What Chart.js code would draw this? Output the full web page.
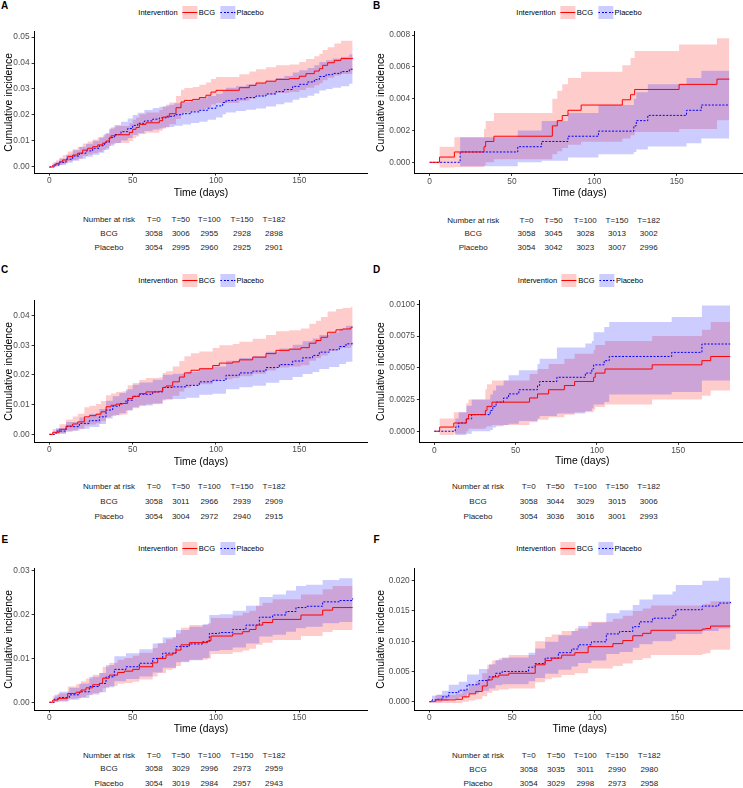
<!DOCTYPE html>
<html><head><meta charset="utf-8">
<script src="https://cdn.jsdelivr.net/npm/chart.js@4.4.1/dist/chart.umd.min.js"></script>
<style>
html,body{margin:0;padding:0;background:#fff;overflow:hidden}
#root{position:relative;width:743px;height:788px;overflow:hidden;font-family:"Liberation Sans",Arial,Helvetica,sans-serif;background:#fff}
.abs{position:absolute;white-space:nowrap}
canvas{position:absolute}
.legend{display:flex;align-items:center;height:13px;font-size:7.5px;line-height:13px;color:#000}
.key{position:relative;width:15px;height:13px;display:inline-block}
.key.bcg{background:rgba(255,0,0,0.2)}
.key.pla{background:rgba(0,0,255,0.2)}
.key i{position:absolute;left:0;right:0;top:6px;height:1px}
.key.bcg i{background:#ff0000}
.key.pla i{background:repeating-linear-gradient(90deg,#0000ff 0 2px,transparent 2px 3.5px)}
</style></head>
<body><div id="root"></div>
<script>
// ---------- shared labels ----------
const legendTitle = 'Intervention';
const groups = ['BCG', 'Placebo'];
const xTicks = [0, 50, 100, 150];
const xTickLabels = ['0', '50', '100', '150'];
const riskHeader = 'Number at risk';
const riskTimes = ['T=0', 'T=50', 'T=100', 'T=150', 'T=182'];

// ---------- y ticks ----------
const yTicksA = [0, 0.01, 0.02, 0.03, 0.04, 0.05];
const yLabelsA = ['0.00', '0.01', '0.02', '0.03', '0.04', '0.05'];
const yTicksB = [0, 0.002, 0.004, 0.006, 0.008];
const yLabelsB = ['0.000', '0.002', '0.004', '0.006', '0.008'];
const yTicksC = [0, 0.01, 0.02, 0.03, 0.04];
const yLabelsC = ['0.00', '0.01', '0.02', '0.03', '0.04'];
const yTicksD = [0, 0.0025, 0.005, 0.0075, 0.01];
const yLabelsD = ['0.0000', '0.0025', '0.0050', '0.0075', '0.0100'];
const yTicksE = [0, 0.01, 0.02, 0.03];
const yLabelsE = ['0.00', '0.01', '0.02', '0.03'];
const yTicksF = [0, 0.005, 0.01, 0.015, 0.02];
const yLabelsF = ['0.000', '0.005', '0.010', '0.015', '0.020'];

// ---------- risk tables ----------
const riskBcgA = [3058, 3006, 2955, 2928, 2898];
const riskPlaA = [3054, 2995, 2960, 2925, 2901];
const riskBcgB = [3058, 3045, 3028, 3013, 3002];
const riskPlaB = [3054, 3042, 3023, 3007, 2996];
const riskBcgC = [3058, 3011, 2966, 2939, 2909];
const riskPlaC = [3054, 3004, 2972, 2940, 2915];
const riskBcgD = [3058, 3044, 3029, 3015, 3006];
const riskPlaD = [3054, 3036, 3016, 3001, 2993];
const riskBcgE = [3058, 3029, 2996, 2973, 2959];
const riskPlaE = [3054, 3019, 2984, 2957, 2943];
const riskBcgF = [3058, 3035, 3011, 2990, 2980];
const riskPlaF = [3054, 3029, 2998, 2973, 2958];

// ---------- Panel A ----------
const aBcgT   = [0,2,4,6,8,11,14,17,20,23,26,29,32,34,36,37,40,48,50,52,54,58,66,68,72,76,79,81,86,90,94,97,100,114,120,124,130,136,144,150,154,159,162,164,167,171,175,182];
const aBcgEst = [0,.0007,.0013,.0020,.0027,.0040,.0046,.0053,.0065,.0072,.0078,.0085,.0092,.0100,.0111,.0120,.0124,.0133,.0145,.0152,.0164,.0170,.0178,.0192,.0205,.0228,.0250,.0256,.0260,.0267,.0276,.0288,.0295,.0305,.0314,.0323,.0330,.0337,.0340,.0349,.0359,.0369,.0378,.0391,.0401,.0410,.0417,.0420];
const aBcgHi  = [0,.0017,.0026,.0036,.0045,.0060,.0068,.0077,.0090,.0098,.0106,.0114,.0122,.0131,.0144,.0153,.0158,.0168,.0182,.0190,.0203,.0210,.0219,.0234,.0248,.0273,.0297,.0304,.0308,.0316,.0325,.0338,.0346,.0357,.0367,.0376,.0384,.0391,.0394,.0404,.0415,.0426,.0436,.0450,.0461,.0475,.0486,.0488];
const aBcgLo  = [0,.0001,.0004,.0008,.0012,.0022,.0027,.0032,.0042,.0048,.0053,.0059,.0065,.0072,.0081,.0089,.0092,.0100,.0111,.0117,.0127,.0132,.0139,.0152,.0164,.0185,.0205,.0210,.0214,.0220,.0228,.0240,.0246,.0255,.0263,.0272,.0278,.0285,.0288,.0296,.0305,.0314,.0322,.0334,.0343,.0352,.0358,.0360];
const aPlaT   = [0,3,6,10,14,18,22,26,30,33,36,39,43,47,50,53,57,62,66,70,75,80,85,90,95,100,104,106,112,118,124,130,136,141,146,150,155,159,162,166,170,175,180,182];
const aPlaEst = [0,.0008,.0018,.0030,.0042,.0053,.0062,.0072,.0082,.0095,.0113,.0125,.0136,.0148,.0160,.0168,.0177,.0184,.0189,.0195,.0201,.0205,.0212,.0218,.0226,.0235,.0248,.0256,.0262,.0267,.0273,.0281,.0290,.0298,.0310,.0318,.0327,.0336,.0348,.0355,.0360,.0367,.0376,.0378];
const aPlaHi  = [0,.0018,.0032,.0048,.0064,.0078,.0089,.0101,.0113,.0128,.0148,.0162,.0174,.0187,.0200,.0209,.0219,.0227,.0232,.0239,.0245,.0250,.0257,.0264,.0273,.0282,.0296,.0305,.0311,.0317,.0323,.0332,.0342,.0350,.0363,.0372,.0381,.0391,.0404,.0411,.0417,.0424,.0434,.0444];
const aPlaLo  = [0,.0002,.0008,.0016,.0024,.0032,.0039,.0047,.0055,.0066,.0082,.0092,.0102,.0112,.0123,.0130,.0138,.0144,.0148,.0154,.0159,.0163,.0169,.0174,.0182,.0190,.0203,.0210,.0215,.0220,.0225,.0233,.0241,.0248,.0259,.0266,.0274,.0283,.0294,.0300,.0305,.0311,.0320,.0321];

// ---------- Panel B ----------
const bBcgT   = [0,6,15,33,34,39,74.5,77.5,80.5,84,92,117,122,124.5,151.5,174.5,182];
const bBcgEst = [0,.00033,.00065,.00098,.00131,.00164,.00229,.00262,.00294,.00327,.00360,.00393,.00425,.00458,.00490,.00523,.00523];
const bBcgHi  = [0,.00098,.00157,.00210,.00260,.00310,.00400,.00450,.00490,.00530,.00570,.00610,.00655,.00700,.00740,.00780,.00780];
const bBcgLo  = [0,-.00033,-.00030,-.00020,0,.00020,.00050,.00070,.00090,.00110,.00130,.00150,.00170,.00190,.00210,.00265,.00265];
const bPlaT   = [0,18.5,53.5,68,84,102.5,124,125.5,132.5,156,165,182];
const bPlaEst = [0,.00065,.00098,.00131,.00164,.00196,.00229,.00262,.00295,.00327,.00360,.00360];
const bPlaHi  = [0,.00157,.00200,.00260,.00310,.00360,.00400,.00440,.00490,.00530,.00575,.00575];
const bPlaLo  = [0,-.00025,0,.00010,.00030,.00050,.00065,.00080,.00100,.00120,.00150,.00150];

// ---------- Panel C ----------
const cBcgT   = [0,2,6,10,14,17,21,24,28,31,34,37,40,44,47,50,54,58,66,68,70,74,78,81,85,90,98,102,110,114,122,130,136,144,151,156,160,163,167,172,176,181,182];
const cBcgEst = [0,.0007,.0017,.0028,.0035,.0042,.0059,.0063,.0068,.0076,.0093,.0098,.0102,.0104,.0121,.0128,.0137,.0143,.0145,.0158,.0163,.0177,.0193,.0207,.0216,.0221,.0232,.0240,.0244,.0251,.0260,.0272,.0283,.0287,.0292,.0307,.0316,.0327,.0344,.0352,.0355,.0361,.0362];
const cBcgHi  = [0,.0018,.0034,.0050,.0060,.0069,.0091,.0096,.0102,.0112,.0132,.0138,.0143,.0145,.0165,.0173,.0183,.0190,.0192,.0207,.0213,.0229,.0247,.0263,.0273,.0279,.0291,.0300,.0304,.0312,.0322,.0335,.0347,.0351,.0357,.0373,.0383,.0395,.0414,.0422,.0426,.0430,.0430];
const cBcgLo  = [0,.0001,.0002,.0008,.0013,.0018,.0030,.0033,.0037,.0044,.0058,.0062,.0065,.0067,.0081,.0088,.0096,.0101,.0103,.0114,.0118,.0130,.0144,.0157,.0165,.0169,.0179,.0186,.0190,.0196,.0204,.0215,.0225,.0229,.0233,.0248,.0256,.0266,.0281,.0289,.0291,.0297,.0297];
const cPlaT   = [0,4,10,18,24,30,34,38,42,46,50,54,62,68,74,82,90,98,106,114,122,130,138,146,152,158,162,168,174,178,182];
const cPlaEst = [0,.0011,.0026,.0037,.0046,.0059,.0082,.0095,.0104,.0115,.0128,.0135,.0143,.0158,.0160,.0165,.0177,.0182,.0199,.0207,.0213,.0225,.0235,.0247,.0258,.0266,.0277,.0285,.0296,.0305,.0311];
const cPlaHi  = [0,.0021,.0042,.0057,.0069,.0085,.0113,.0128,.0139,.0152,.0167,.0175,.0184,.0201,.0204,.0210,.0223,.0229,.0248,.0257,.0264,.0278,.0289,.0302,.0314,.0323,.0335,.0344,.0356,.0366,.0372];
const cPlaLo  = [0,.0003,.0012,.0019,.0025,.0035,.0053,.0064,.0071,.0080,.0091,.0097,.0104,.0117,.0119,.0123,.0133,.0137,.0152,.0159,.0164,.0174,.0183,.0193,.0203,.0210,.0220,.0227,.0237,.0245,.0250];

// ---------- Panel D ----------
const dBcgT   = [0,3.3,12,19.7,21,31.4,32.4,35.5,58.6,63.5,70.3,80,86.3,98,99,105,134,164.6,170,182];
const dBcgEst = [0,.00033,.00065,.00098,.00131,.00164,.00196,.00229,.00262,.00294,.00327,.00360,.00392,.00425,.00458,.00490,.00523,.00556,.00589,.00589];
const dBcgHi  = [0,.00100,.00150,.00220,.00250,.00330,.00370,.00400,.00450,.00490,.00530,.00570,.00610,.00640,.00680,.00710,.00750,.00800,.00860,.00860];
const dBcgLo  = [0,-.00030,-.00020,0,.00020,.00030,.00040,.00050,.00070,.00090,.00110,.00130,.00150,.00170,.00190,.00210,.00250,.00280,.00320,.00320];
const dPlaT   = [0,12.9,15,19.7,23,34.4,36,38,42.6,45.7,52,63.5,64.8,75.4,92.9,96.9,98,104.5,107.6,146,164.6,182];
const dPlaEst = [0,.00033,.00065,.00098,.00131,.00164,.00196,.00229,.00262,.00294,.00327,.00360,.00392,.00425,.00458,.00490,.00523,.00556,.00589,.00621,.00687,.00687];
const dPlaHi  = [0,.00100,.00150,.00200,.00250,.00290,.00320,.00360,.00400,.00440,.00480,.00530,.00570,.00660,.00690,.00710,.00780,.00820,.00860,.00900,.00990,.00990];
const dPlaLo  = [0,-.00030,-.00030,-.00020,0,.00010,.00030,.00040,.00050,.00060,.00080,.00100,.00120,.00140,.00160,.00180,.00210,.00230,.00290,.00310,.00400,.00400];

// ---------- Panel E ----------
const eBcgT   = [0,2,5,11,16,19,22,26,30,32,36,41,45,50,54,62,65,70,74,76,79,84,95,97,110,116,120,124,128,134,151,164,170,182];
const eBcgEst = [0,.0005,.0009,.0020,.0023,.0028,.0033,.0040,.0043,.0055,.0062,.0068,.0071,.0075,.0081,.0090,.0100,.0108,.0112,.0119,.0131,.0136,.0140,.0151,.0156,.0161,.0166,.0176,.0182,.0189,.0199,.0210,.0216,.0216];
const eBcgHi  = [0,.0013,.0020,.0036,.0041,.0048,.0054,.0063,.0067,.0081,.0090,.0097,.0101,.0106,.0113,.0124,.0135,.0144,.0149,.0157,.0170,.0176,.0180,.0192,.0198,.0204,.0209,.0220,.0227,.0235,.0246,.0258,.0265,.0265];
const eBcgLo  = [0,0,.0001,.0008,.0009,.0012,.0016,.0021,.0023,.0032,.0037,.0042,.0044,.0047,.0052,.0059,.0067,.0074,.0077,.0083,.0093,.0097,.0100,.0110,.0114,.0118,.0122,.0131,.0136,.0142,.0151,.0160,.0165,.0165];
const ePlaT   = [0,3,6,12,18,24,30,34,39,46,54,62,68,76,84,92,96,102,110,118,126,134,142,148,154,164,174,182];
const ePlaEst = [0,.0007,.0011,.0017,.0024,.0036,.0043,.0058,.0075,.0081,.0089,.0100,.0112,.0127,.0133,.0138,.0157,.0159,.0166,.0176,.0194,.0199,.0207,.0216,.0219,.0229,.0232,.0237];
const ePlaHi  = [0,.0017,.0024,.0033,.0043,.0058,.0067,.0085,.0105,.0112,.0121,.0134,.0148,.0165,.0172,.0178,.0199,.0201,.0209,.0220,.0240,.0246,.0255,.0265,.0268,.0279,.0283,.0291];
const ePlaLo  = [0,.0001,.0003,.0006,.0010,.0018,.0023,.0034,.0048,.0053,.0059,.0068,.0079,.0091,.0096,.0101,.0117,.0119,.0125,.0134,.0150,.0154,.0161,.0169,.0172,.0180,.0183,.0187];

// ---------- Panel F ----------
const fBcgT   = [0,3.6,16,20,24,28,32,35,38,42,48,64,70,74,80,88,96,111,117,123,129,134,165,167,170,182];
const fBcgEst = [0,.0003,.0004,.0008,.0013,.0017,.0026,.0036,.0041,.0044,.0047,.0061,.0068,.0072,.0077,.0081,.0091,.0096,.0101,.0109,.0113,.0118,.0120,.0121,.0125,.0125];
const fBcgHi  = [0,.0011,.0013,.0020,.0028,.0034,.0047,.0061,.0068,.0072,.0077,.0100,.0107,.0111,.0117,.0121,.0132,.0137,.0142,.0150,.0154,.0159,.0161,.0162,.0166,.0166];
const fBcgLo  = [0,-.0002,-.0002,0,.0002,.0004,.0009,.0015,.0018,.0020,.0022,.0032,.0037,.0040,.0044,.0047,.0055,.0059,.0063,.0069,.0072,.0077,.0079,.0080,.0086,.0086];
const fPlaT   = [0,1.6,4.6,7.7,11.7,17.8,22.8,30,36,40,44,60,64,70,78,86,90,98,107,115,123,127,135,147,149,165,175,182];
const fPlaEst = [0,.0003,.0004,.0008,.0015,.0019,.0028,.0035,.0041,.0047,.0050,.0057,.0063,.0072,.0081,.0087,.0094,.0099,.0112,.0116,.0124,.0132,.0138,.0142,.0152,.0158,.0163,.0165];
const fPlaHi  = [0,.0010,.0012,.0018,.0028,.0033,.0045,.0054,.0062,.0069,.0073,.0081,.0088,.0099,.0110,.0117,.0125,.0131,.0146,.0151,.0160,.0169,.0177,.0182,.0193,.0200,.0205,.0208];
const fPlaLo  = [0,-.0001,-.0001,.0001,.0005,.0007,.0013,.0018,.0022,.0027,.0029,.0034,.0039,.0046,.0053,.0058,.0064,.0068,.0079,.0082,.0089,.0095,.0100,.0103,.0112,.0117,.0121,.0122];

// ---------- layout of the six panels ----------
const colsL = [109, 153.8, 180.8, 209.3, 242, 274];
const panels = [
  {id:'A', left:0,   plot:{l:34.2, r:367.8, t:31.7,  b:173},   y:{min:-0.00231, max:0.05204, ticks:yTicksA, labels:yLabelsA}, letter:[1,5.5],     legend:[201,12.7],  titleOff:20.3, cols:colsL, rows:[220,234.3,248.3],
   bcg:[aBcgT,aBcgEst,aBcgLo,aBcgHi], pla:[aPlaT,aPlaEst,aPlaLo,aPlaHi], risk:[riskBcgA,riskPlaA]},
  {id:'B', left:372, plot:{l:414.7, r:744.3, t:31.7, b:173.3}, y:{min:-0.00069, max:0.00821, ticks:yTicksB, labels:yLabelsB}, letter:[373,5.5],   legend:[579,12.7],  titleOff:20,   cols:[473.2,526.5,553.5,585.3,617,648.7], rows:[221,234,248.3],
   bcg:[bBcgT,bBcgEst,bBcgLo,bBcgHi], pla:[bPlaT,bPlaEst,bPlaLo,bPlaHi], risk:[riskBcgB,riskPlaB]},
  {id:'C', left:0,   plot:{l:34.2, r:367.8, t:300.7, b:442},   y:{min:-0.00258, max:0.04503, ticks:yTicksC, labels:yLabelsC}, letter:[1,269.5],   legend:[201,280],   titleOff:19.7, cols:colsL, rows:[487.3,501.7,516.7],
   bcg:[cBcgT,cBcgEst,cBcgLo,cBcgHi], pla:[cPlaT,cPlaEst,cPlaLo,cPlaHi], risk:[riskBcgC,riskPlaC]},
  {id:'D', left:372, plot:{l:419.5, r:745, t:300.7, b:442.3},  y:{min:-0.00087, max:0.01028, ticks:yTicksD, labels:yLabelsD}, letter:[373,269.5], legend:[580.5,280], titleOff:19,   cols:[478,528.7,555.3,585.3,617,648.7], rows:[487.3,501.7,516.7],
   bcg:[dBcgT,dBcgEst,dBcgLo,dBcgHi], pla:[dPlaT,dPlaEst,dPlaLo,dPlaHi], risk:[riskBcgD,riskPlaD]},
  {id:'E', left:0,   plot:{l:34.2, r:367.8, t:568.7, b:710},   y:{min:-0.00176, max:0.03046, ticks:yTicksE, labels:yLabelsE}, letter:[1.5,540],   legend:[201,548.3], titleOff:19,   cols:colsL, rows:[755.7,769.3,784],
   bcg:[eBcgT,eBcgEst,eBcgLo,eBcgHi], pla:[ePlaT,ePlaEst,ePlaLo,ePlaHi], risk:[riskBcgE,riskPlaE]},
  {id:'F', left:372, plot:{l:414.3, r:745.4, t:568.7, b:710},  y:{min:-0.00137, max:0.02198, ticks:yTicksF, labels:yLabelsF}, letter:[373.5,540], legend:[579,548.3], titleOff:19.3, cols:[478,528.7,556,585.3,617,649.3], rows:[755.7,770,784.3],
   bcg:[fBcgT,fBcgEst,fBcgLo,fBcgHi], pla:[fPlaT,fPlaEst,fPlaLo,fPlaHi], risk:[riskBcgF,riskPlaF]}
];

const FONT = '"Liberation Sans", Arial, Helvetica, sans-serif';
Chart.defaults.font.family = FONT;
const root = document.getElementById('root');

function addText(x, y, s, fs, opts) {
  opts = opts || {};
  const d = document.createElement('div');
  d.className = 'abs';
  d.textContent = s;
  d.style.left = x + 'px';
  d.style.top = (y - 0.5 * fs) + 'px';
  d.style.fontSize = fs + 'px';
  d.style.lineHeight = fs + 'px';
  if (!opts.left) d.style.transform = 'translateX(-50%)';
  if (opts.bold) d.style.fontWeight = 'bold';
  d.style.color = opts.color || '#000';
  root.appendChild(d);
}

function addLegend(cx, cy) {
  const d = document.createElement('div');
  d.className = 'abs legend';
  d.style.left = cx + 'px';
  d.style.top = (cy - 6.5) + 'px';
  d.style.transform = 'translateX(-50%)';
  const t = document.createElement('span'); t.textContent = legendTitle; t.style.marginRight = '4.7px'; d.appendChild(t);
  ['bcg', 'pla'].forEach((k, i) => {
    const key = document.createElement('span'); key.className = 'key ' + k;
    key.appendChild(document.createElement('i')); d.appendChild(key);
    const s = document.createElement('span'); s.textContent = groups[i];
    s.style.marginLeft = '1.5px'; if (i === 0) s.style.marginRight = '5px';
    d.appendChild(s);
  });
  root.appendChild(d);
}

const pts = (t, v) => t.map((x, i) => ({x: x, y: v[i]}));

function buildPanel(p) {
  addText(p.letter[0], p.letter[1], p.id, 10, {left: true, bold: true});
  addLegend(p.legend[0], p.legend[1]);

  const cl = p.left;
  const ct = Math.floor(p.plot.t - 10);
  const padTop = p.plot.t - ct;
  const plotH = p.plot.b - p.plot.t;
  const titleLH = 10.4 * 1.2;
  const cw = Math.ceil(p.plot.r - cl + 3);
  const padRight = cw - (p.plot.r - cl);
  const ch = Math.ceil(padTop + plotH + p.titleOff + titleLH / 2 + 2);
  const xScaleH = ch - padTop - plotH;
  const titlePadB = xScaleH - p.titleOff - titleLH / 2;
  const yScaleW = p.plot.l - cl;

  const cv = document.createElement('canvas');
  cv.width = cw; cv.height = ch;
  cv.style.left = cl + 'px'; cv.style.top = ct + 'px';
  cv.style.width = cw + 'px'; cv.style.height = ch + 'px';
  root.appendChild(cv);

  const band = (col) => ({borderColor: 'rgba(0,0,0,0)', borderWidth: 0, backgroundColor: col, stepped: true, pointRadius: 0, tension: 0});
  const datasets = [
    {label: groups[0], data: pts(p.bcg[0], p.bcg[1]), borderColor: '#ff0000', borderWidth: 1, stepped: true, pointRadius: 0, fill: false, order: 0},
    {label: groups[1], data: pts(p.pla[0], p.pla[1]), borderColor: '#0000ff', borderWidth: 1, borderDash: [2, 1.5], stepped: true, pointRadius: 0, fill: false, order: 0},
    Object.assign({label: groups[1] + ' upper', data: pts(p.pla[0], p.pla[3]), fill: '+1', order: 1}, band('rgba(0,0,255,0.2)')),
    Object.assign({label: groups[1] + ' lower', data: pts(p.pla[0], p.pla[2]), fill: false, order: 1}, band('rgba(0,0,255,0.2)')),
    Object.assign({label: groups[0] + ' upper', data: pts(p.bcg[0], p.bcg[3]), fill: '+1', order: 2}, band('rgba(255,0,0,0.2)')),
    Object.assign({label: groups[0] + ' lower', data: pts(p.bcg[0], p.bcg[2]), fill: false, order: 2}, band('rgba(255,0,0,0.2)'))
  ];

  new Chart(cv, {
    type: 'line',
    data: {datasets: datasets},
    options: {
      responsive: false, maintainAspectRatio: false, animation: false, devicePixelRatio: 1, events: [],
      layout: {padding: {top: padTop, right: padRight, left: 0, bottom: 0}},
      plugins: {legend: {display: false}, tooltip: {enabled: false}, filler: {propagate: false}},
      scales: {
        x: {
          type: 'linear', min: -9.1, max: 191.1,
          afterBuildTicks: s => { s.ticks = xTicks.map(v => ({value: v})); },
          afterFit: s => { s.height = xScaleH; },
          ticks: {callback: (v, i) => xTickLabels[i], autoSkip: false, maxRotation: 0, minRotation: 0, padding: 0.5, color: '#4D4D4D', font: {size: 8.4}},
          grid: {display: true, drawOnChartArea: false, drawTicks: true, tickLength: 2.6, color: '#333', lineWidth: 1},
          border: {display: true, color: '#000', width: 1},
          title: {display: true, text: 'Time (days)', color: '#000', font: {size: 10.4}, padding: {top: 0, bottom: titlePadB}}
        },
        y: {
          type: 'linear', min: p.y.min, max: p.y.max,
          afterBuildTicks: s => { s.ticks = p.y.ticks.map(v => ({value: v})); },
          afterFit: s => { s.width = yScaleW; },
          ticks: {callback: (v, i) => p.y.labels[i], autoSkip: false, padding: 2, color: '#4D4D4D', font: {size: 8.4}},
          grid: {display: true, drawOnChartArea: false, drawTicks: true, tickLength: 2.6, color: '#333', lineWidth: 1},
          border: {display: true, color: '#000', width: 1},
          title: {display: true, text: 'Cumulative incidence', color: '#000', font: {size: 10.4}, padding: {top: 3, bottom: 0}}
        }
      }
    }
  });

  // number-at-risk table
  const tc = '#222';
  addText(p.cols[0], p.rows[0], riskHeader, 8, {color: tc});
  riskTimes.forEach((s, i) => addText(p.cols[i + 1], p.rows[0], s, 8, {color: tc}));
  addText(p.cols[0], p.rows[1], groups[0], 8, {color: tc});
  p.risk[0].forEach((v, i) => addText(p.cols[i + 1], p.rows[1], String(v), 8, {color: tc}));
  addText(p.cols[0], p.rows[2], groups[1], 8, {color: tc});
  p.risk[1].forEach((v, i) => addText(p.cols[i + 1], p.rows[2], String(v), 8, {color: tc}));
}

panels.forEach(buildPanel);
</script>
</body></html>
